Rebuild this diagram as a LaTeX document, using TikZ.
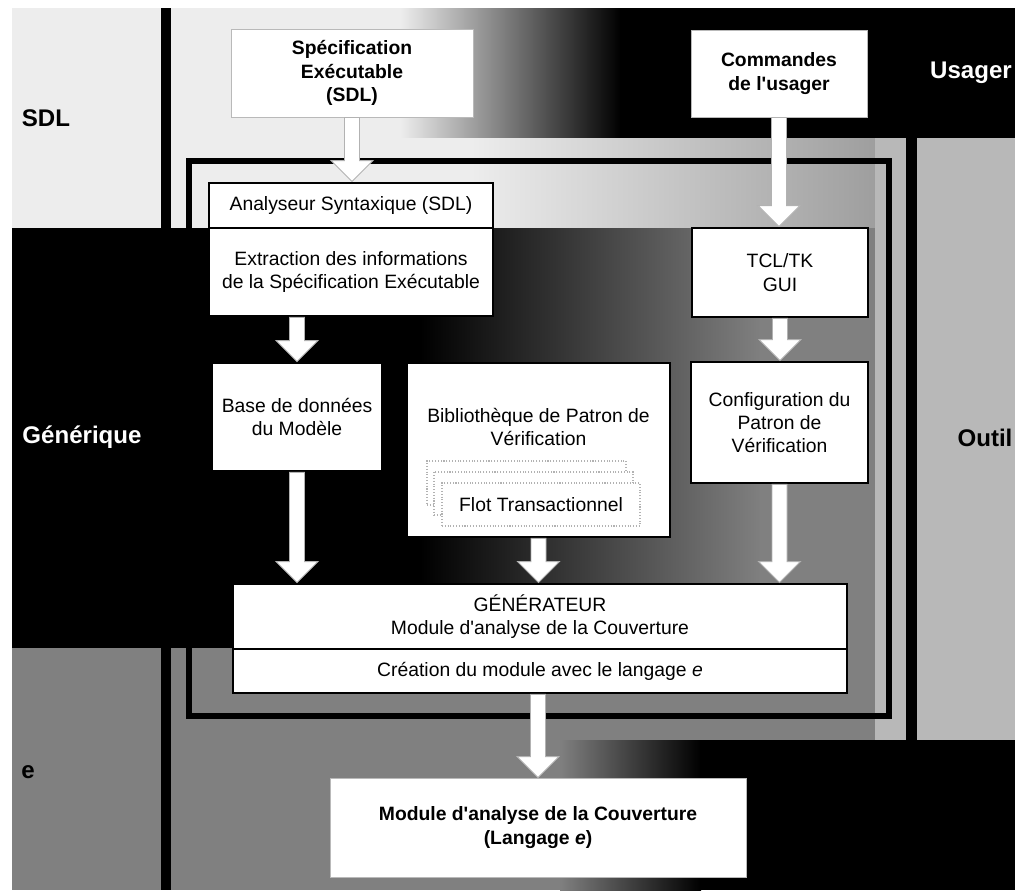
\documentclass[tikz,border=0pt]{standalone}
\usepackage{fontspec}
\setmainfont{Liberation Sans}[Ligatures=TeXOff]
\usetikzlibrary{calc}

% vertical block arrow from the bottom of #1 to the top of #2, centred on the x of #3
\newcommand\blockarr[3]{%
  \path[arrowfill] let \p1=(#3), \p2=(#1.south), \p3=(#2.north) in
    ({\x1-0.15cm},\y2) -- ({\x1-0.15cm},{\y3+0.42cm}) -- ({\x1-0.42cm},{\y3+0.42cm})
    -- (\x1,\y3) -- ({\x1+0.42cm},{\y3+0.42cm}) -- ({\x1+0.15cm},{\y3+0.42cm})
    -- ({\x1+0.15cm},\y2) -- cycle;}

\colorlet{paleband}{black!7}
\colorlet{midband}{black!50}
\colorlet{toolband}{black!28}

\tikzset{
  wh/.style 2 args={minimum width=#1*0.02cm, minimum height=#2*0.02cm},
  boxfont/.style={font=\fontsize{11}{13.2}\selectfont},
  mainbox/.style={draw=black, line width=1.6pt, fill=white, inner sep=0pt,
    align=center, boxfont},
  softbox/.style={draw=gray!55, line width=0.5pt, fill=white, inner sep=0pt,
    align=center, font=\fontsize{11}{13.6}\selectfont\bfseries},
  stackbox/.style={draw=gray!60, densely dotted, line width=0.6pt, fill=white,
    inner sep=0pt, boxfont},
  rowlabel/.style={font=\fontsize{13.7}{16}\selectfont\bfseries, inner sep=0pt},
  arrowfill/.style={fill=white, draw=gray!60, line width=0.5pt, line join=miter},
}

\begin{document}
\begin{tikzpicture}[x=0.02cm, y=-0.02cm]
\useasboundingbox (0,0) rectangle (1015,890);
\fill[white] (0,0) rectangle (1015,890);

% ---- background bands ----
% SDL row, upper part (user commands on the right)
\fill[paleband] (12,8) rectangle (401,138);
\shade[left color=paleband, right color=black] (400,8) rectangle (621,138);
\fill[black] (620,8) rectangle (1015,138);
% SDL row, lower part
\fill[paleband] (12,138) rectangle (471,228);
\shade[left color=paleband, right color=black!38] (470,138) rectangle (876,228);
% generic row
\fill[black] (12,228) rectangle (421,648);
\shade[left color=black, right color=midband] (420,228) rectangle (761,648);
\fill[midband] (760,228) rectangle (876,648);
% e row
\fill[midband] (12,648) rectangle (1015,890);
\shade[left color=midband, right color=black] (560,740) rectangle (701,890);
\fill[black] (700,740) rectangle (1015,890);
% tool column
\fill[toolband] (875,138) rectangle (1015,740);

% ---- separators and tool frame ----
\draw[line width=0.2cm] (166,8) -- (166,890);
\draw[line width=0.22cm] (911.5,138) -- (911.5,740);
\draw[line width=0.12cm] (189,161) rectangle (889,716);

% ---- boxes ----
\node[softbox, wh={242}{88}] (spec) at (352,73) {Spécification\\Exécutable\\(SDL)};
\node[softbox, wh={176}{87}] (cmd) at (779,73.5) {Commandes\\de l'usager};
\node[mainbox, wh={284}{45}] (ana) at (351,205.5) {Analyseur Syntaxique (SDL)};
\node[mainbox, wh={284}{88}] (extr) at (351,272) {Extraction des informations\\de la Spécification Exécutable};
\node[mainbox, wh={176}{89}] (tcl) at (780,272.5) {TCL/TK\\GUI};
\node[mainbox, wh={170}{108}] (base) at (297,417) {Base de données\\du Modèle};
\node[mainbox, wh={263}{174}] (bib) at (538.5,450) {};
\node[boxfont, align=center, inner sep=0pt] (bibtxt) at (538.5,427) {Bibliothèque de Patron de\\Vérification};
\node[stackbox, wh={199}{44}] (flotA) at (526.5,483) {};
\node[stackbox, wh={199}{43}] (flotB) at (533.5,493.5) {};
\node[stackbox, wh={198}{43}] (flotC) at (541,504.5) {Flot Transactionnel};
\node[mainbox, wh={177}{121}] (cfg) at (779.5,422.5) {Configuration du\\Patron de\\Vérification};
\node[mainbox, wh={614}{65}] (gen) at (540,616.5) {GÉNÉRATEUR\\Module d'analyse de la Couverture};
\node[mainbox, wh={614}{44}] (cre) at (540,671) {Création du module avec le langage \textit{e}};
\node[softbox, wh={416}{99}] (mod) at (538,827.5) {Module d'analyse de la Couverture\\(Langage \textit{e})};

% ---- flow arrows ----
\blockarr{spec}{ana}{spec}
\blockarr{cmd}{tcl}{cmd}
\blockarr{extr}{base}{base}
\blockarr{tcl}{cfg}{tcl}
\blockarr{base}{gen}{base}
\blockarr{bib}{gen}{bib}
\blockarr{cfg}{gen}{cfg}
\blockarr{cre}{mod}{mod}

% ---- row and column labels ----
\node[rowlabel] (lsdl) at (46,118) {SDL};
\node[rowlabel, text=white] (lusager) at (971,73) {Usager};
\node[rowlabel, text=white] (lgen) at (82,437) {Générique};
\node[rowlabel] (loutil) at (985,438) {Outil};
\node[rowlabel] (le) at (28,772) {e};
\end{tikzpicture}
\end{document}
